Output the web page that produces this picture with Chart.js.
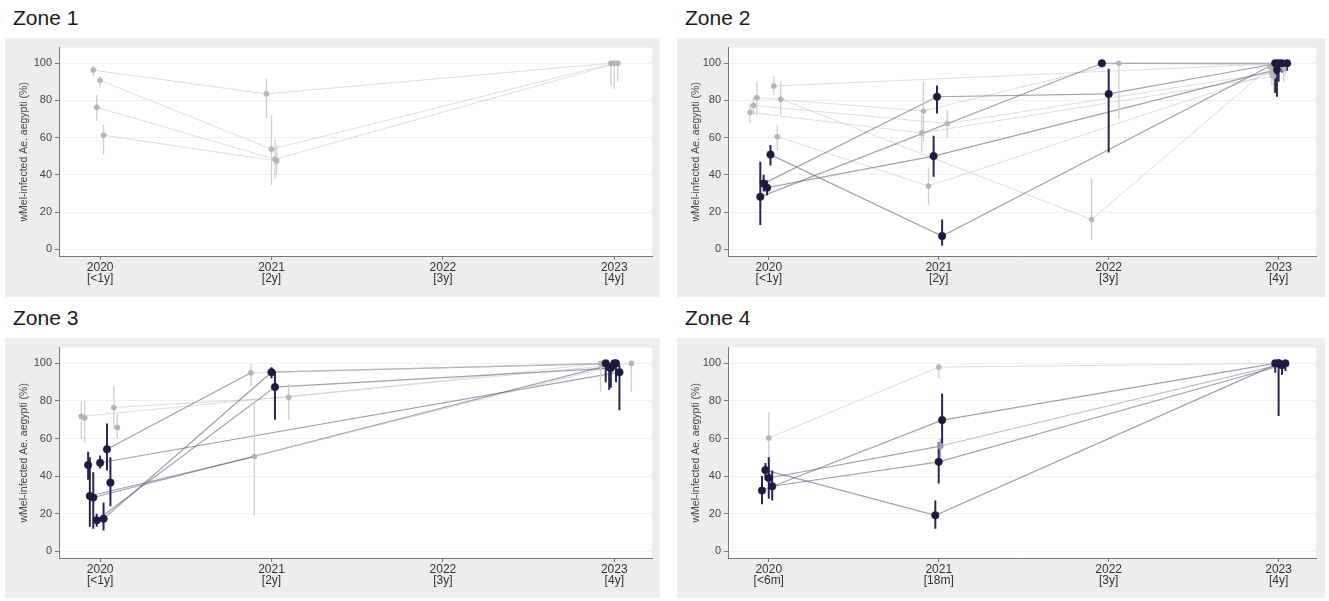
<!DOCTYPE html>
<html><head><meta charset="utf-8">
<script src="https://cdn.jsdelivr.net/npm/chart.js@4.4.1/dist/chart.umd.min.js"></script>
<style>
body{margin:0;width:1329px;height:601px;background:#fff;position:relative;overflow:hidden;font-family:"Liberation Sans",Arial,sans-serif;}
.title{position:absolute;font-size:21px;color:#1a1a1a;line-height:24px;white-space:nowrap;}
.box{position:absolute;background:#ededed;}
.box canvas{position:absolute;left:0;top:0;}
</style></head><body>
<script>
// ---------- data ----------
const zoneTitles = ['Zone 1', 'Zone 2', 'Zone 3', 'Zone 4'];
const yTicks = [0, 20, 40, 60, 80, 100];
const xYears = [2020, 2021, 2022, 2023];
const xPeriodLabels = ['[<1y]', '[2y]', '[3y]', '[4y]'];
const xPeriodLabelsZone4 = ['[<6m]', '[18m]', '[3y]', '[4y]'];
const yAxisTitle = 'wMel-infected Ae. aegypti (%)';

// each series: list of [year, % infected, lower CI, upper CI]
const zone1Series = [
  [[2019.96, 96.3, 93, 98.5], [2020.97, 83.5, 70.6, 91.6], [2022.98, 100, 88, 100]],
  [[2020.00, 90.8, 87, 93], [2021.00, 53.8, 34.5, 72], [2023.00, 100, 86, 100]],
  [[2019.98, 76.3, 69, 83], [2021.02, 48.4, 38, 59], [2023.02, 100, 90, 100]],
  [[2020.02, 61.3, 51, 67], [2021.03, 47.5, 40, 56]]
];
// category of each point (L = low, M = medium, D = high), one letter per point
const zone1Groups = ['LLL', 'LLL', 'LLL', 'LL'];

const zone2Series = [
  [[2019.97, 35.3, 31, 40], [2020.99, 82.0, 73, 88], [2022.00, 83.5, 52, 97], [2023.00, 100, 90, 100]],
  [[2019.95, 28.2, 13, 47], [2021.96, 100, 98, 100], [2023.02, 100, 95, 100]],
  [[2019.99, 33.1, 29, 37], [2020.97, 50.1, 39, 61], [2022.99, 96.6, 82, 99]],
  [[2020.01, 50.9, 45, 56], [2021.02, 7.1, 2, 16], [2022.98, 100, 84, 100]],
  [[2020.03, 87.7, 83, 93], [2023.05, 100, 96, 100]],
  [[2020.07, 80.7, 72, 90], [2021.90, 16.0, 5, 38], [2022.95, 98, 92, 100]],
  [[2019.93, 81.5, 72, 90], [2020.91, 74.3, 58, 90], [2022.06, 100, 70, 100], [2023.04, 99, 94, 100]],
  [[2019.89, 73.6, 68, 78], [2020.90, 62.5, 52, 72], [2022.97, 93, 85, 97]],
  [[2020.05, 60.5, 53, 67], [2020.94, 34.0, 24, 44], [2023.03, 97, 90, 100]],
  [[2019.91, 77.3, 72, 82], [2021.05, 67.6, 60, 75], [2022.96, 95, 88, 99]]
];
const zone2Groups = ['DDDD', 'DDD', 'DDD', 'DDD', 'LD', 'LLL', 'LLLL', 'LLL', 'LLL', 'LLL'];

const zone3Series = [
  [[2020.04, 54.3, 43, 68], [2020.88, 95.0, 88, 100], [2022.95, 100, 90, 100]],
  [[2019.98, 16.5, 13, 20], [2021.02, 87.4, 70, 96], [2022.98, 97.5, 87, 99.5]],
  [[2020.02, 17.3, 11, 26], [2021.00, 95.3, 92, 98], [2023.00, 100, 97, 100]],
  [[2019.94, 29.4, 13, 50], [2020.90, 50.4, 19, 80], [2022.97, 98, 86, 100]],
  [[2020.00, 47.1, 44, 51], [2023.03, 95.3, 75, 99]],
  [[2019.96, 28.6, 12, 42], [2023.01, 100, 90, 100]],
  [[2019.93, 45.9, 38, 53]],
  [[2020.06, 36.5, 24, 50]],
  [[2019.89, 71.8, 60, 80], [2023.10, 100, 85, 100]],
  [[2019.91, 70.9, 58, 80]],
  [[2020.08, 76.5, 65, 88], [2021.10, 82.0, 70, 89], [2022.92, 100, 85, 100]],
  [[2020.10, 65.9, 60, 73]]
];
const zone3Groups = ['DLD', 'DDD', 'DDD', 'DLD', 'DD', 'DD', 'D', 'D', 'LL', 'L', 'LLL', 'L'];

const zone4Series = [
  [[2020.00, 60.3, 46, 74], [2021.00, 98.0, 92, 100], [2023.00, 100, 98, 100]],
  [[2019.96, 32.3, 25, 40], [2021.02, 69.8, 57, 84], [2022.98, 100, 95, 100]],
  [[2019.98, 43.2, 38, 47], [2020.98, 19.1, 12, 27], [2023.00, 100, 72, 100]],
  [[2020.02, 34.6, 27, 43], [2021.00, 47.6, 36, 58], [2023.02, 99, 94, 100]],
  [[2020.00, 39.0, 28, 50], [2021.01, 56.0, 50, 60], [2023.04, 100, 96, 100]]
];
const zone4Groups = ['LLD', 'DDD', 'DDD', 'DDD', 'DMD'];

// ---------- styling / layout ----------
const zones = [
  {series: zone1Series, groups: zone1Groups, periods: xPeriodLabels},
  {series: zone2Series, groups: zone2Groups, periods: xPeriodLabels},
  {series: zone3Series, groups: zone3Groups, periods: xPeriodLabels},
  {series: zone4Series, groups: zone4Groups, periods: xPeriodLabelsZone4}
];
const panelLayout = [
  {tx: 13, ty: 6, bx: 5, by: 38, bw: 655, bh: 259},
  {tx: 685, ty: 6, bx: 677, by: 38, bw: 648, bh: 259},
  {tx: 13, ty: 306, bx: 5, by: 338, bw: 655, bh: 260},
  {tx: 685, ty: 306, bx: 677, by: 338, bw: 648, bh: 260}
];
const style = {
  L: {pt: '#b5b5b5', err: '#cfcfcf', errW: 1.3, line: 'rgba(200,200,200,0.6)', lineW: 1, r: 2.6},
  M: {pt: '#9a9ab2', err: '#aaaabe', errW: 1.5, line: 'rgba(150,150,172,0.6)', lineW: 1.1, r: 3},
  D: {pt: '#1c1c40', err: '#28284f', errW: 2, line: 'rgba(100,100,122,0.6)', lineW: 1.2, r: 3.8}
};
const groupRank = {D: 0, M: 1, L: 2};
const FONT = '"Liberation Sans", Arial, sans-serif';

const whiteArea = {
  id: 'whiteArea',
  beforeDraw(chart) {
    const a = chart.chartArea, c = chart.ctx;
    c.save(); c.fillStyle = '#ffffff';
    c.fillRect(a.left, a.top, a.right - a.left, a.bottom - a.top);
    c.restore();
  }
};

zones.forEach((z, zi) => {
  const L = panelLayout[zi];
  const t = document.createElement('div');
  t.className = 'title'; t.textContent = zoneTitles[zi];
  t.style.left = L.tx + 'px'; t.style.top = L.ty + 'px';
  document.body.appendChild(t);
  const box = document.createElement('div');
  box.className = 'box';
  Object.assign(box.style, {left: L.bx + 'px', top: L.by + 'px', width: L.bw + 'px', height: L.bh + 'px'});
  const cv = document.createElement('canvas');
  cv.width = L.bw; cv.height = L.bh;
  cv.style.width = L.bw + 'px'; cv.style.height = L.bh + 'px';
  box.appendChild(cv);
  document.body.appendChild(box);

  const datasets = [];
  z.series.forEach((pts, si) => {
    const gs = z.groups[si].split('');
    const minRank = Math.min(...gs.map(g => groupRank[g]));
    if (pts.length > 1) {
      datasets.push({data: pts.map(p => ({x: p[0], y: p[1]})), showLine: true,
        pointRadius: 0, borderColor: style[gs[0]].line, borderWidth: 1.1,
        segment: {
          borderColor: c => style[gs[c.p0DataIndex]].line,
          borderWidth: c => style[gs[c.p0DataIndex]].lineW
        },
        order: 30 + minRank});
    }
    pts.forEach((p, pi) => {
      const s = style[gs[pi]];
      datasets.push({data: [{x: p[0], y: p[2]}, {x: p[0], y: p[3]}], showLine: true,
        pointRadius: 0, borderColor: s.err, borderWidth: s.errW, order: 10 + groupRank[gs[pi]]});
    });
    gs.forEach(g => {});
    // points drawn per category so dark ones sit on top
    ['D', 'M', 'L'].forEach(g => {
      const idx = gs.map((v, i) => v === g ? i : -1).filter(i => i >= 0);
      if (!idx.length) return;
      const s = style[g];
      datasets.push({data: idx.map(i => ({x: pts[i][0], y: pts[i][1]})), showLine: false,
        pointRadius: s.r, pointBackgroundColor: s.pt, pointBorderColor: s.pt, pointBorderWidth: 0.5,
        order: groupRank[g]});
    });
  });

  new Chart(cv, {
    type: 'scatter',
    data: {datasets},
    plugins: [whiteArea],
    options: {
      responsive: false, animation: false, events: [],
      layout: {padding: {top: zi < 2 ? 8 : 9, right: zi % 2 ? 9 : 8, left: 0, bottom: 0}},
      plugins: {legend: {display: false}, tooltip: {enabled: false}},
      scales: {
        x: {
          type: 'linear', min: 2019.76, max: 2023.22,
          afterBuildTicks: sc => { sc.ticks = xYears.map(v => ({value: v})); },
          afterFit: sc => { sc.height = zi < 2 ? 41 : 40; },
          ticks: {
            autoSkip: false, maxRotation: 0, padding: 2, color: '#333',
            font: {family: FONT, size: 12, lineHeight: 0.95},
            callback: v => { const i = xYears.indexOf(v); return [String(v), z.periods[i]]; }
          },
          grid: {drawOnChartArea: false, tickLength: 4, tickColor: '#777'},
          border: {color: '#777', width: 1}
        },
        y: {
          min: -3.6, max: 108.4,
          afterBuildTicks: sc => { sc.ticks = yTicks.map(v => ({value: v})); },
          afterFit: sc => { sc.width = zi % 2 ? 51 : 54; },
          ticks: {padding: 3, color: '#444', font: {family: FONT, size: 11}},
          grid: {color: '#f1f1f1', lineWidth: 1, tickLength: 4, tickColor: '#777'},
          border: {color: '#777', width: 1},
          title: {display: true, text: yAxisTitle, color: '#444', padding: {top: 13, bottom: 0},
            font: {family: FONT, size: 10.5}}
        }
      }
    }
  });
});
</script>
</body></html>
